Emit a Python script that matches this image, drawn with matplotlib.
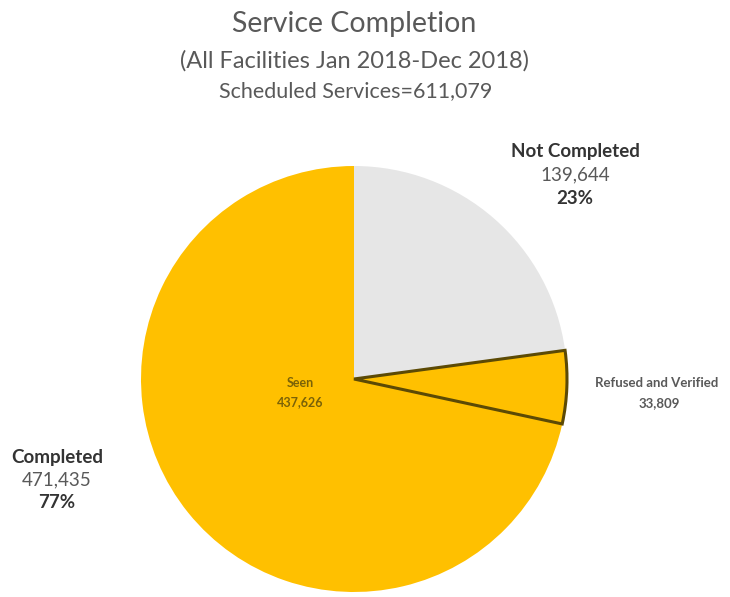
import matplotlib
matplotlib.use("Agg")
import matplotlib.pyplot as plt

plt.rcParams['font.family'] = ['Lato', 'DejaVu Sans']

slice_names = ['Not Completed', 'Refused and Verified', 'Seen']
slice_values = [139644, 33809, 437626]
slice_colors = ['#e6e6e6', '#ffc000', '#ffc000']
total_scheduled = 611079

W, H = 730, 597
fig = plt.figure(figsize=(W / 100, H / 100), dpi=100)

# pie centre and radius in pixels
cx, cy, r = 354, 379, 213
ax = fig.add_axes([(cx - r) / W, (H - cy - r) / H, 2 * r / W, 2 * r / H])
wedges, _ = ax.pie(slice_values, colors=slice_colors, startangle=90,
                   counterclock=False, radius=1.0,
                   wedgeprops=dict(linewidth=0))
wedges[1].set_edgecolor('#5c4a05')
wedges[1].set_linewidth(2.2)
wedges[1].set_zorder(5)
ax.set_xlim(-1, 1)
ax.set_ylim(-1, 1)
ax.set_aspect('equal')
ax.axis('off')

def px(x, y):
    return x / W, 1 - y / H

grey = '#595959'
dark = '#333333'
fig.text(*px(354, 24), 'Service Completion', ha='center', va='center',
         fontsize=20.5, color=grey)
fig.text(*px(354, 61), '(All Facilities Jan 2018-Dec 2018)', ha='center',
         va='center', fontsize=17, color=grey)
fig.text(*px(356, 91), 'Scheduled Services={:,}'.format(total_scheduled),
         ha='center', va='center', fontsize=15.5, color=grey)

completed = slice_values[1] + slice_values[2]
not_completed = slice_values[0]

# group labels
fig.text(*px(575, 151), 'Not Completed', ha='center', va='center',
         fontsize=13.5, fontweight='bold', color=dark)
fig.text(*px(575, 175), '{:,}'.format(not_completed), ha='center',
         va='center', fontsize=13.5, color=grey)
fig.text(*px(575, 199), '{:.0f}%'.format(100 * not_completed / total_scheduled),
         ha='center', va='center', fontsize=13.5, fontweight='bold', color=dark)

fig.text(*px(57, 457), 'Completed', ha='center', va='center',
         fontsize=13.5, fontweight='bold', color=dark)
fig.text(*px(57, 480), '{:,}'.format(completed), ha='center',
         va='center', fontsize=13.5, color=grey)
fig.text(*px(57, 503), '{:.0f}%'.format(100 * completed / total_scheduled),
         ha='center', va='center', fontsize=13.5, fontweight='bold', color=dark)

# slice labels
fig.text(*px(300, 383), slice_names[2], ha='center', va='center',
         fontsize=9, fontweight='bold', color='#7a6208')
fig.text(*px(300, 402), '{:,}'.format(slice_values[2]), ha='center',
         va='center', fontsize=9, fontweight='bold', color='#7a6208')
fig.text(*px(657, 383), slice_names[1], ha='center', va='center',
         fontsize=9.5, fontweight='bold', color='#595959')
fig.text(*px(659, 403), '{:,}'.format(slice_values[1]), ha='center',
         va='center', fontsize=9.5, fontweight='bold', color='#595959')

fig.savefig('out.png', dpi=100)
